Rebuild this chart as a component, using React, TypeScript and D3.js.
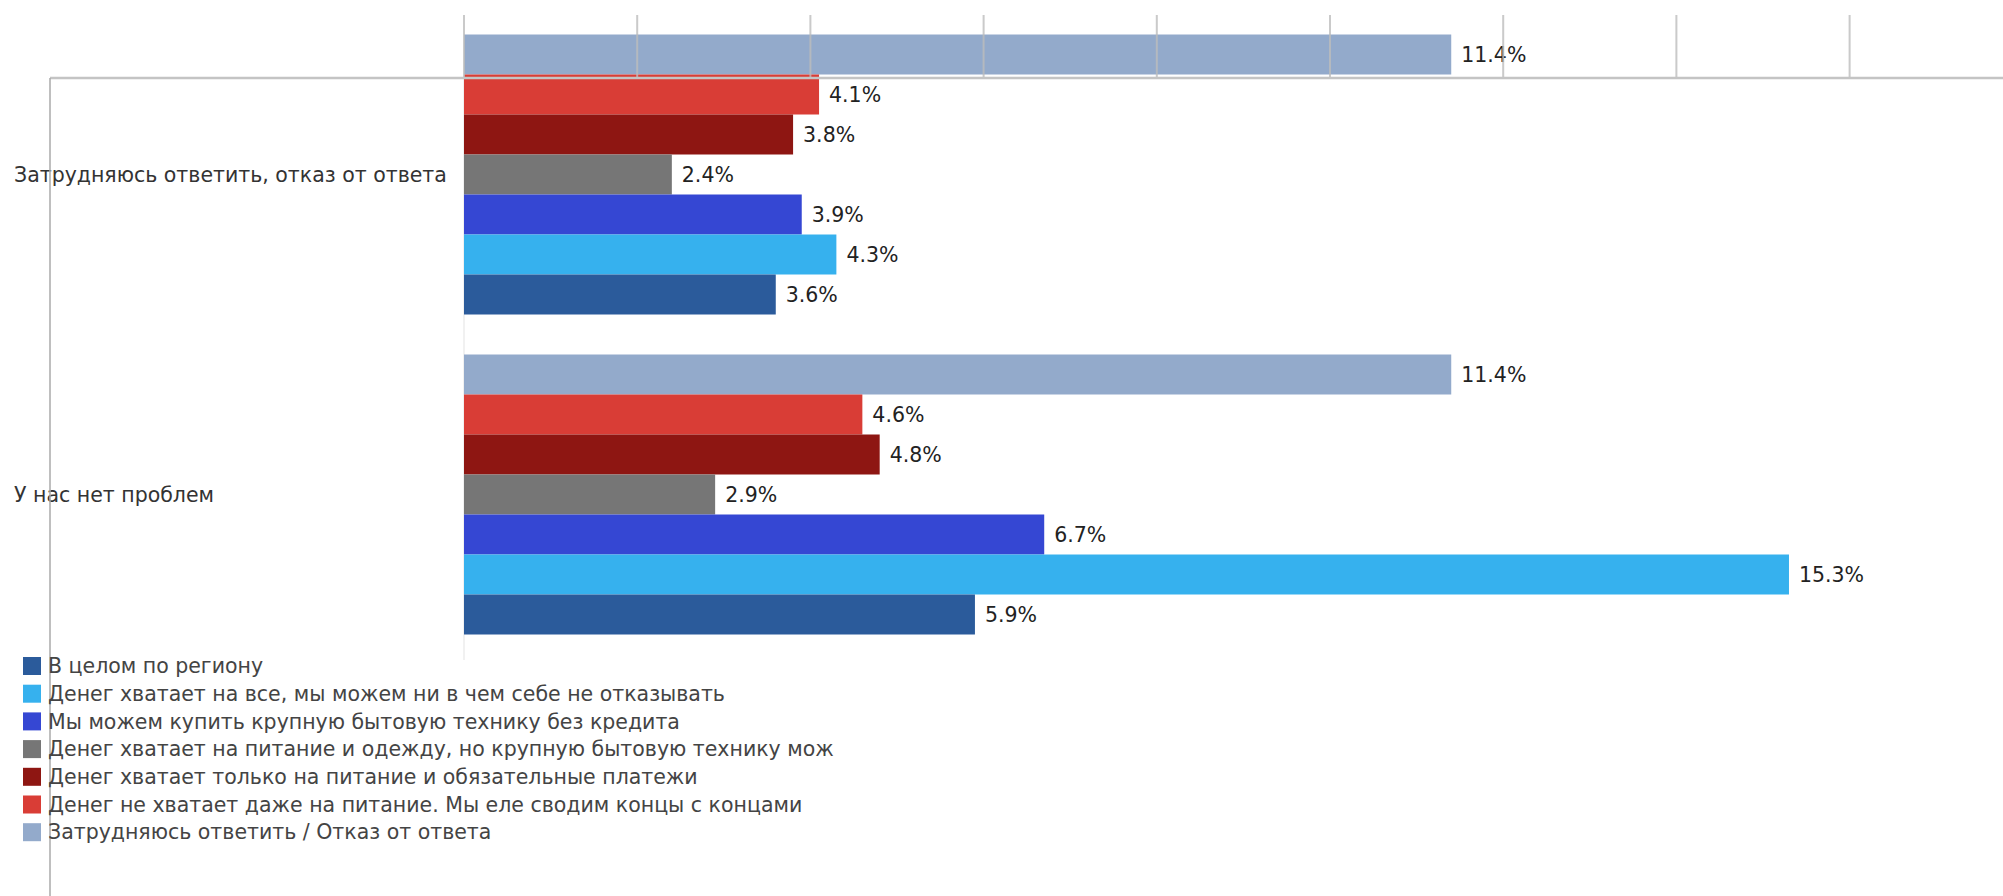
import React from "react";
import * as d3 from "d3";

const categories = ["Затрудняюсь ответить, отказ от ответа", "У нас нет проблем"];

const seriesNames = [
  "В целом по региону",
  "Денег хватает на все, мы можем ни в чем себе не отказывать",
  "Мы можем купить крупную бытовую технику без кредита",
  "Денег хватает на питание и одежду, но крупную бытовую технику мож",
  "Денег хватает только на питание и обязательные платежи",
  "Денег не хватает даже на питание. Мы еле сводим концы с концами",
  "Затрудняюсь ответить / Отказ от ответа",
];

const seriesColors = ["#2b5b9b", "#36b1ee", "#3547d3", "#767676", "#8e1612", "#d93d36", "#93aacb"];

const regionValues = [3.6, 5.9];
const allValues = [4.3, 15.3];
const applianceValues = [3.9, 6.7];
const foodClothesValues = [2.4, 2.9];
const foodOnlyValues = [3.8, 4.8];
const notEnoughValues = [4.1, 4.6];
const hardValues = [11.4, 11.4];

const seriesValues = [regionValues, allValues, applianceValues, foodClothesValues, foodOnlyValues, notEnoughValues, hardValues];

const tickValues = [0, 2, 4, 6, 8, 10, 12, 14, 16];

const W = 2003;
const H = 896;
const FONT = "DejaVu Sans, Verdana, sans-serif";
const FS = 20.5;

export default function App() {
  const x = d3.scaleLinear().domain([0, 16]).range([464, 464 + 16 * 86.6]);
  const y = d3.scaleBand<string>().domain(categories).range([34.5, 634.5]).paddingInner(0.125).paddingOuter(0);
  const order = d3.range(seriesNames.length).reverse();
  const y1 = d3.scaleBand<number>().domain(order).range([0, y.bandwidth()]).padding(0);

  return (
    <svg width={W} height={H} style={{ position: "absolute", left: 0, top: 0, display: "block", background: "#fff" }}>
      <rect x={0} y={0} width={W} height={H} fill="#fff" />
      {/* faint zero line */}
      <line x1={x(0)} x2={x(0)} y1={78} y2={660} stroke="#f1f1f1" strokeWidth={2} />
      {categories.map((c, ci) => (
        <g key={c} transform={`translate(0,${y(c)})`}>
          {order.map((si) => {
            const v = seriesValues[si][ci];
            const by = y1(si)!;
            const bh = y1.bandwidth();
            return (
              <g key={si}>
                <rect x={x(0)} y={by} width={x(v) - x(0)} height={bh} fill={seriesColors[si]} />
                <text
                  x={x(v) + 10}
                  y={by + bh / 2}
                  dy="0.35em"
                  fontFamily={FONT}
                  fontSize={FS}
                  fill="#222"
                >
                  {v.toFixed(1) + "%"}
                </text>
              </g>
            );
          })}
          <text x={14} y={y.bandwidth() / 2} dy="0.35em" fontFamily={FONT} fontSize={FS} fill="#333">
            {c}
          </text>
        </g>
      ))}
      {/* grid ticks at top */}
      {tickValues.map((t) => (
        <line key={t} x1={x(t)} x2={x(t)} y1={15} y2={78} stroke="#bdbdbd" strokeWidth={2} opacity={0.8} />
      ))}
      <line x1={50} x2={W} y1={78} y2={78} stroke="#c4c4c4" strokeWidth={2.5} />
      <line x1={50} x2={50} y1={78} y2={H} stroke="#aaaaaa" strokeWidth={1.5} />
      {/* legend */}
      {seriesNames.map((n, i) => (
        <g key={n} transform={`translate(23,${657 + i * 27.7})`}>
          <rect x={0} y={0} width={18} height={18} fill={seriesColors[i]} />
          <text x={25} y={9} dy="0.35em" fontFamily={FONT} fontSize={FS} fill="#444">
            {n}
          </text>
        </g>
      ))}
    </svg>
  );
}
